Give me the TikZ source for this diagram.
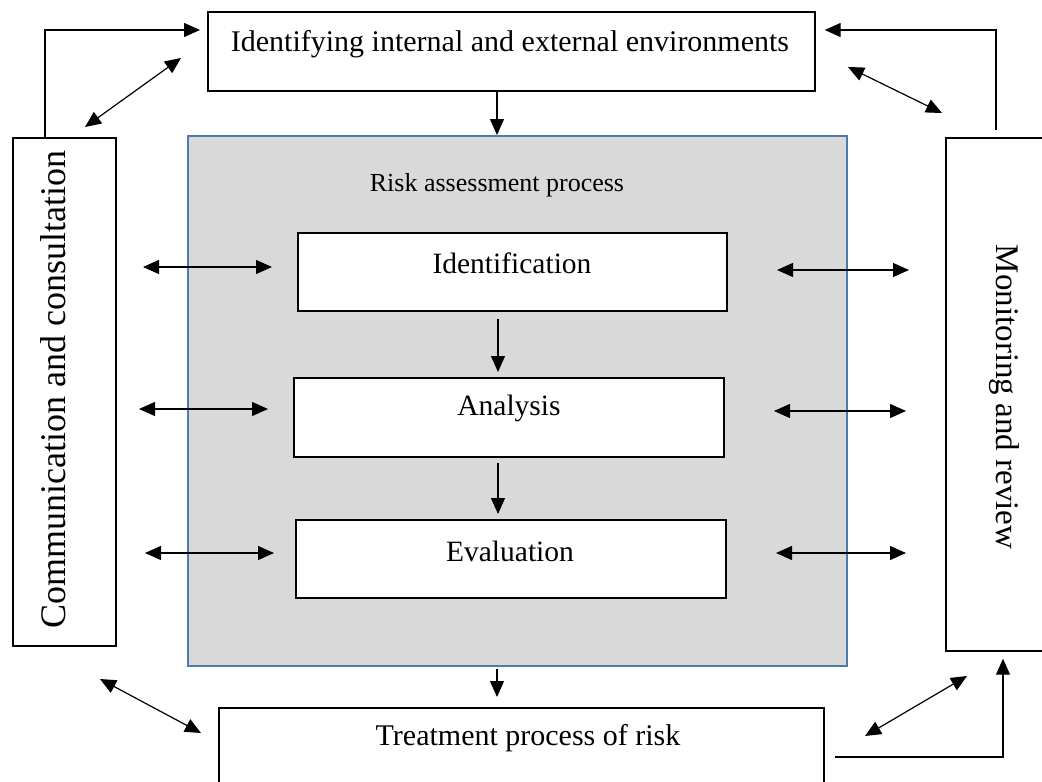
\documentclass[tikz,border=0pt]{standalone}
\usepackage{fontspec}
\setmainfont{Liberation Serif}
\usetikzlibrary{arrows.meta,calc}
\definecolor{panelfill}{HTML}{D9D9D9}
\definecolor{panelline}{HTML}{4F7BAA}
\begin{document}
\begin{tikzpicture}[x=1pt,y=-1pt,
  box/.style={draw=black, line width=1.7pt, fill=white, inner sep=0pt, anchor=north west},
  lbl/.style={font=\fontsize{30}{34}\selectfont, inner sep=0pt},
  steplbl/.style={font=\fontsize{29.5}{34}\selectfont, inner sep=0pt},
  tip/.tip={Triangle[length=16pt,width=14pt]},
  conn/.style={line width=1.2pt, -tip},
  dconn/.style={line width=1.2pt, tip-tip}]
\useasboundingbox (0,0) rectangle (1042,782);

% outer boxes
\node[box, minimum width=607pt, minimum height=79pt] (env) at (207,11) {};
\node[box, minimum width=103pt, minimum height=508pt] (comm) at (12,137) {};
\node[box, minimum width=100pt, minimum height=513pt] (mon) at (945,137) {};
\node[box, minimum width=605pt, minimum height=95pt] (treat) at (218,707) {};

% risk assessment panel
\node[draw=panelline, fill=panelfill, line width=2.4pt, inner sep=0pt, anchor=north west,
      minimum width=659pt, minimum height=530pt] (panel) at (187,135) {};

% inner steps
\node[box, minimum width=429pt, minimum height=78pt] (ident) at (297,232) {};
\node[box, minimum width=430pt, minimum height=79pt] (anal) at (293,377) {};
\node[box, minimum width=430pt, minimum height=78pt] (eval) at (295,519) {};

% labels
\node[lbl] (envT) at (510,44) {Identifying internal and external environments};
\node[font=\fontsize{26}{30}\selectfont, inner sep=0pt] (panelT) at (497,185) {Risk assessment process};
\node[steplbl] (identT) at (512,263) {Identification};
\node[steplbl] (analT) at (509,408) {Analysis};
\node[steplbl] (evalT) at (510,551) {Evaluation};
\node[lbl] (treatT) at (528,738) {Treatment process of risk};
\node[font=\fontsize{36}{40}\selectfont, inner sep=0pt, rotate=90] (commT) at (53,390) {Communication and consultation};
\node[font=\fontsize{33}{38}\selectfont, inner sep=0pt, rotate=-90] (monT) at (1004,397) {Monitoring and review};

% vertical flow
\draw[conn] ($(env.south west)+(290,0)$) -- ($(panel.north west)+(310,0)$);
\draw[conn] ($(ident.south west)+(201,7)$) -- ($(anal.north west)+(205,-5)$);
\draw[conn] ($(anal.south west)+(205,5)$) -- ($(eval.north west)+(203,-5)$);
\draw[conn] ($(panel.south west)+(310,2)$) -- ($(treat.north west)+(279,-10)$);

% feedback loops
\draw[conn] ($(comm.north west)+(33,0)$) |- ($(env.north west)+(-7,19)$);
\draw[conn] ($(mon.north west)+(51,-7)$) |- ($(env.north east)+(9,19)$);
\draw[conn] ($(treat.north east)+(10,50)$) -| ($(mon.south west)+(58,7)$);

% diagonal two-way links
\coordinate (d1a) at (85,127);  \coordinate (d1b) at (181,58);
\coordinate (d2a) at (848,67);  \coordinate (d2b) at (942,113);
\coordinate (d3a) at (100,679); \coordinate (d3b) at (201,733);
\coordinate (d4a) at (865,736); \coordinate (d4b) at (967,676);
\draw[dconn] (d1a) -- (d1b);
\draw[dconn] (d2a) -- (d2b);
\draw[dconn] (d3a) -- (d3b);
\draw[dconn] (d4a) -- (d4b);

% horizontal two-way links
\coordinate (l1a) at (143,267); \coordinate (l1b) at (272,267);
\coordinate (l2a) at (139,409); \coordinate (l2b) at (268,409);
\coordinate (l3a) at (145,553); \coordinate (l3b) at (274,553);
\coordinate (r1a) at (777,270); \coordinate (r1b) at (909,270);
\coordinate (r2a) at (774,411); \coordinate (r2b) at (906,411);
\coordinate (r3a) at (776,553); \coordinate (r3b) at (906,553);
\foreach \p in {l1,l2,l3,r1,r2,r3}
  \draw[dconn] (\p a) -- (\p b);
\end{tikzpicture}
\end{document}
